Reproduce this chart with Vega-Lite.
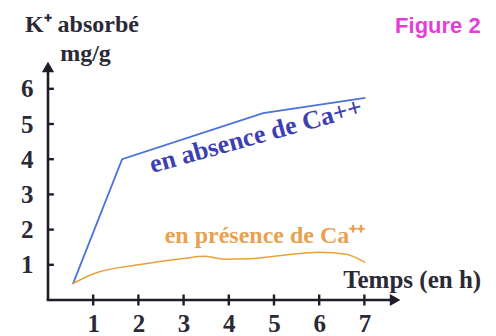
{
  "$schema": "https://vega.github.io/schema/vega-lite/v6.json",
  "width": 448,
  "height": 300,
  "autosize": {"type": "none"},
  "padding": {"left": 48, "top": 0, "right": 0, "bottom": 36},
  "background": "white",
  "config": {"view": {"stroke": null}},
  "datasets": {
    "blue": [
      {"x": 0.55, "y": 0.45},
      {"x": 1.64, "y": 4.0},
      {"x": 4.76, "y": 5.31},
      {"x": 7.02, "y": 5.74}
    ],
    "orange": [
      {"x": 0.55, "y": 0.47},
      {"x": 1.0, "y": 0.74},
      {"x": 2.0, "y": 1.0},
      {"x": 3.0, "y": 1.18},
      {"x": 3.45, "y": 1.24},
      {"x": 3.9, "y": 1.16},
      {"x": 4.5, "y": 1.17},
      {"x": 5.0, "y": 1.24},
      {"x": 6.0, "y": 1.36},
      {"x": 6.6, "y": 1.3},
      {"x": 7.02, "y": 1.06}
    ],
    "axes": [
      {"x": 0, "y": 0, "x2": 0, "y2": 6.6},
      {"x": -0.03, "y": 0, "x2": 7.7, "y2": 0}
    ],
    "xticks": [
      {"x": 1, "y": 0}, {"x": 2, "y": 0}, {"x": 3, "y": 0}, {"x": 4, "y": 0},
      {"x": 5, "y": 0}, {"x": 6, "y": 0}, {"x": 7, "y": 0}
    ],
    "yticks": [
      {"x": 0, "y": 1, "x2": 0.13, "y2": 1}, {"x": 0, "y": 2, "x2": 0.13, "y2": 2},
      {"x": 0, "y": 3, "x2": 0.13, "y2": 3}, {"x": 0, "y": 4, "x2": 0.13, "y2": 4},
      {"x": 0, "y": 5, "x2": 0.13, "y2": 5}, {"x": 0, "y": 6, "x2": 0.13, "y2": 6}
    ],
    "arrowY": [{"x": 0, "y": 6.62}],
    "arrowX": [{"x": 7.68, "y": 0}]
  },
  "encoding": {
    "x": {
      "field": "x", "type": "quantitative",
      "scale": {"domain": [0, 9.912], "nice": false, "zero": false},
      "axis": {
        "values": [1, 2, 3, 4, 5, 6, 7], "domain": false, "ticks": false, "grid": false, "title": null,
        "labelFont": "Liberation Serif", "labelFontWeight": "bold", "labelFontSize": 25,
        "labelColor": "#2b2936", "labelPadding": 11, "labelFlush": false
      }
    },
    "y": {
      "field": "y", "type": "quantitative",
      "scale": {"domain": [0, 8.523], "nice": false, "zero": false},
      "axis": {
        "values": [1, 2, 3, 4, 5, 6], "domain": false, "ticks": false, "grid": false, "title": null,
        "labelFont": "Liberation Serif", "labelFontWeight": "bold", "labelFontSize": 25,
        "labelColor": "#2b2936", "labelPadding": 15, "labelFlush": false
      }
    }
  },
  "layer": [
    {
      "data": {"name": "axes"},
      "mark": {"type": "rule", "color": "#1f1d2a", "strokeWidth": 2.6},
      "encoding": {"x2": {"field": "x2"}, "y2": {"field": "y2"}}
    },
    {
      "data": {"name": "yticks"},
      "mark": {"type": "rule", "color": "#1f1d2a", "strokeWidth": 2.4},
      "encoding": {"x2": {"field": "x2"}, "y2": {"field": "y2"}}
    },
    {
      "data": {"name": "xticks"},
      "mark": {"type": "tick", "orient": "vertical", "size": 11, "thickness": 2.4, "color": "#1f1d2a", "opacity": 1}
    },
    {
      "data": {"name": "arrowY"},
      "mark": {"type": "point", "shape": "triangle-up", "filled": true, "size": 150, "color": "#1f1d2a", "opacity": 1}
    },
    {
      "data": {"name": "arrowX"},
      "mark": {"type": "point", "shape": "triangle-right", "filled": true, "size": 150, "color": "#1f1d2a", "opacity": 1}
    },
    {
      "data": {"name": "blue"},
      "mark": {"type": "line", "color": "#4a72d9", "strokeWidth": 1.8}
    },
    {
      "data": {"name": "orange"},
      "mark": {"type": "line", "color": "#e9a23b", "strokeWidth": 1.5, "interpolate": "monotone"}
    },
    {
      "data": {"values": [{"x": 4.6, "y": 4.66, "label": "en absence de Ca++"}]},
      "mark": {"type": "text", "font": "Liberation Serif", "fontWeight": "bold", "fontSize": 26, "color": "#3d3fb3", "angle": -15.5, "align": "center", "baseline": "middle"},
      "encoding": {"text": {"field": "label"}}
    },
    {
      "data": {"values": [{"x": 4.8, "y": 1.82, "label": "en présence de Ca⁺⁺"}]},
      "mark": {"type": "text", "font": "Liberation Serif", "fontWeight": "bold", "fontSize": 24, "color": "#e8a24f", "align": "center", "baseline": "middle"},
      "encoding": {"text": {"field": "label"}}
    },
    {
      "data": {"values": [{"x": 6.53, "y": 0.34, "label": "Temps (en h)"}]},
      "mark": {"type": "text", "font": "Liberation Serif", "fontWeight": "bold", "fontSize": 25, "color": "#2b2936", "align": "left", "baseline": "alphabetic"},
      "encoding": {"text": {"field": "label"}}
    },
    {
      "data": {"values": [{"x": -0.51, "y": 7.6, "label": "K⁺ absorbé"}]},
      "mark": {"type": "text", "font": "Liberation Serif", "fontWeight": "bold", "fontSize": 24, "color": "#2b2936", "align": "left", "baseline": "alphabetic"},
      "encoding": {"text": {"field": "label"}}
    },
    {
      "data": {"values": [{"x": 0.27, "y": 6.8, "label": "mg/g"}]},
      "mark": {"type": "text", "font": "Liberation Serif", "fontWeight": "bold", "fontSize": 24, "color": "#2b2936", "align": "left", "baseline": "alphabetic"},
      "encoding": {"text": {"field": "label"}}
    },
    {
      "data": {"values": [{"x": 7.68, "y": 7.78, "label": "Figure 2"}]},
      "mark": {"type": "text", "font": "Liberation Sans", "fontWeight": "bold", "fontSize": 22, "color": "#e33fd8", "align": "left", "baseline": "middle"},
      "encoding": {"text": {"field": "label"}}
    }
  ]
}
